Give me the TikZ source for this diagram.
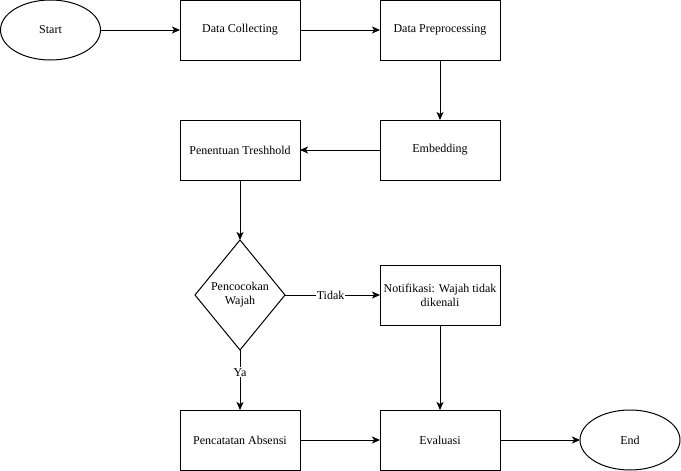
\documentclass[tikz,border=0pt]{standalone}
\usepackage{fontspec}
\setmainfont{Liberation Serif}
\usetikzlibrary{shapes.geometric,arrows.meta}
\begin{document}
\begin{tikzpicture}[x=1pt,y=-1pt,line width=1pt,
  font=\fontsize{12pt}{14pt}\selectfont,
  box/.style={draw,rectangle,minimum width=120pt,minimum height=60pt,inner sep=2pt,outer sep=0pt,align=center},
  oval/.style={draw,ellipse,minimum width=100pt,minimum height=60pt,inner sep=0pt,outer sep=0pt},
  decide/.style={draw,diamond,minimum width=90pt,minimum height=110pt,inner sep=1pt,outer sep=0pt,align=center},
  flow/.style={-{Stealth[length=8pt,width=7pt,inset=2pt]}},
  lbl/.style={fill=white,inner sep=1pt}]
\useasboundingbox (0,0) rectangle (681,471);
\node[oval] (start) at (50.5,30) {Start};
\node[box] (dc) at (240,30) {Data Collecting};
\node[box] (dp) at (440,30) {Data Preprocessing};
\node[box] (emb) at (440,150) {Embedding};
\node[box] (pt) at (240,150) {Penentuan Treshhold};
\node[decide] (pw) at (240,295) {Pencocokan\\Wajah};
\node[box] (nt) at (440,295) {Notifikasi: Wajah tidak\\dikenali};
\node[box] (pa) at (240,440) {Pencatatan Absensi};
\node[box] (ev) at (440,440) {Evaluasi};
\node[oval] (end) at (630,440) {End};
\draw[flow] (start) -- (dc);
\draw[flow] (dc) -- (dp);
\draw[flow] (dp) -- (emb);
\draw[flow] (emb) -- (pt);
\draw[flow] (pt) -- (pw);
\draw[flow] (pw) -- node[lbl,pos=0.48] {Tidak} (nt);
\draw[flow] (pw) -- node[lbl,pos=0.37] {Ya} (pa);
\draw[flow] (nt) -- (ev);
\draw[flow] (pa) -- (ev);
\draw[flow] (ev) -- (end);
\end{tikzpicture}
\end{document}
